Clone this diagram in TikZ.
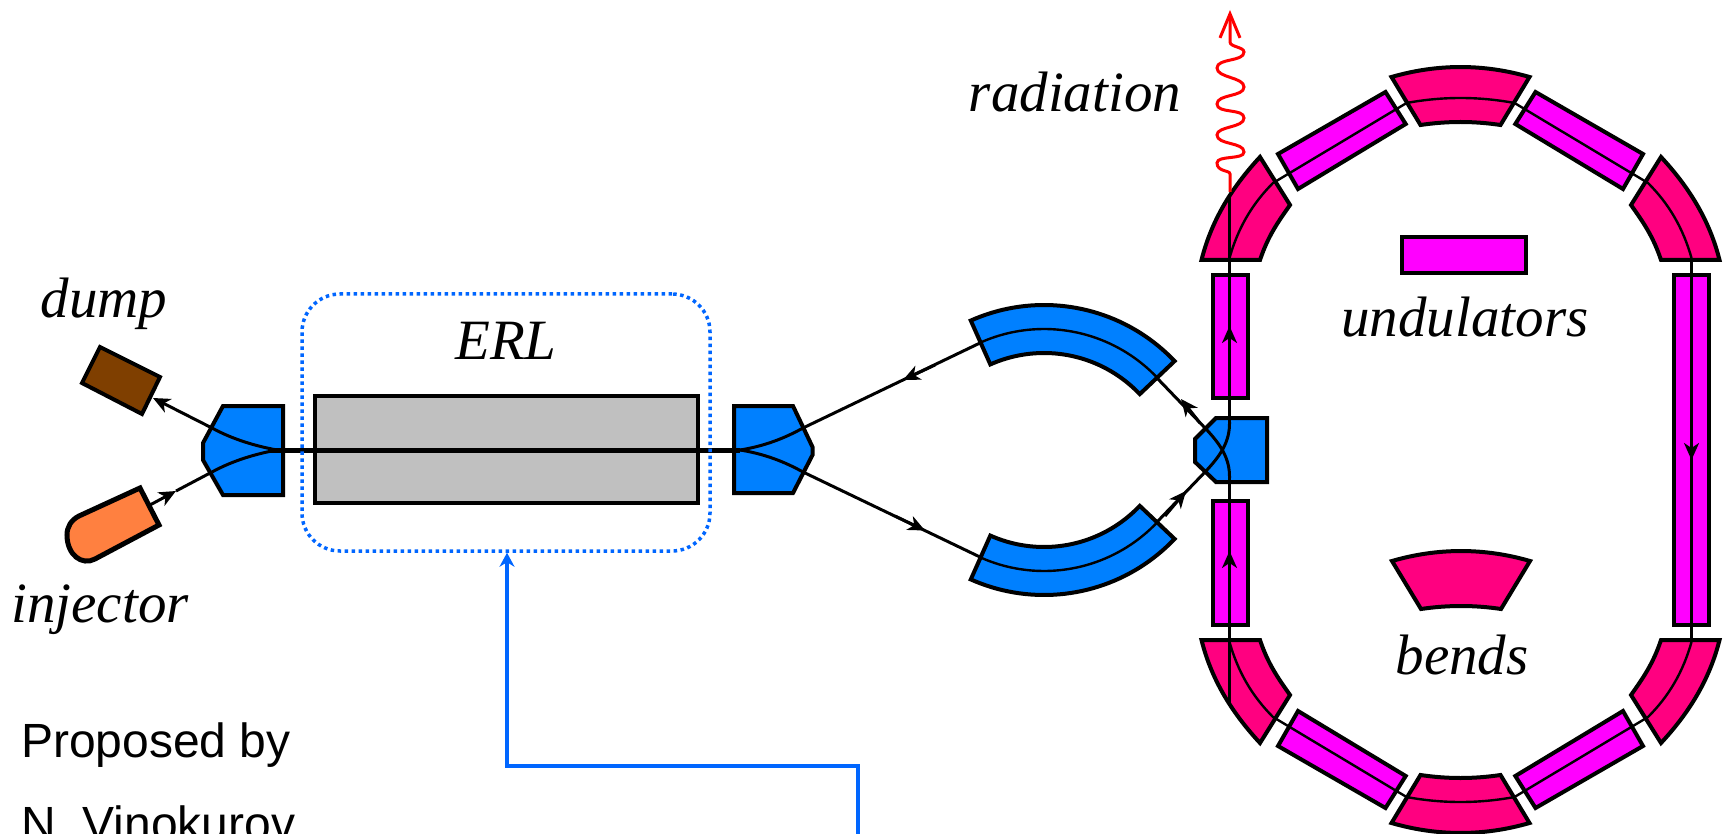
\documentclass[tikz,border=0pt]{standalone}
\usepackage{fontspec}
\setmainfont{Liberation Serif}
\newfontfamily\labsans{Liberation Sans}
\usetikzlibrary{arrows.meta}
\definecolor{magblue}{HTML}{0080FF}
\definecolor{undmag}{HTML}{FF00FF}
\definecolor{bendpink}{HTML}{FF0080}
\definecolor{cavgray}{HTML}{C0C0C0}
\definecolor{dumpbrown}{HTML}{7F3F00}
\definecolor{injorange}{HTML}{FF8040}
\definecolor{linkblue}{HTML}{0066FF}
\newcommand{\bendpath}{(-69,-21) .. controls (-23,-34.3) and (23,-34.3) .. (69,-21) -- (40,27) .. controls (13,23) and (-13,23) .. (-40,27) -- cycle}
\tikzset{
  part/.style={draw=black,line width=4pt,line join=miter},
  beamline/.style={draw=black,line width=3pt},
  ringline/.style={draw=black,line width=2.4pt},
  flowtip/.style={-{Stealth[length=17pt,width=15pt,inset=5pt]}},
  lab/.style={inner sep=0pt,anchor=base,font=\fontsize{57}{60}\selectfont\itshape},
  sanslab/.style={inner sep=0pt,anchor=base west,font=\fontsize{48}{50}\selectfont\labsans}
}
\begin{document}
\begin{tikzpicture}[x=1pt,y=-1pt]
\useasboundingbox (0,0) rectangle (1724,834);
\clip (0,0) rectangle (1724,834);
\fill[white] (0,0) rectangle (1724,834);

% injection side
\fill[part,fill=dumpbrown] (100,347) -- (160,377) -- (142,414) -- (82,383) -- cycle;
\fill[part,fill=injorange,line width=5pt] (140,488) -- (159,525) -- (95,559) .. controls (82,566) and (67,555) .. (67,535) .. controls (67,527) and (71,520) .. (79,516) -- cycle;
\fill[part,fill=magblue] (223,406) -- (283,406) -- (283,495) -- (223,495) -- (203,460) -- (203,443) -- cycle;
\fill[part,fill=cavgray] (315,396) rectangle (698,503);
\fill[part,fill=magblue] (734,406) -- (793,406) -- (812.5,447) -- (812.5,455) -- (793,493) -- (734,493) -- cycle;

% recirculation arcs
\foreach \sy in {1,-1}{
\begin{scope}[shift={(0,450)},yscale=\sy]
  \fill[part,fill=magblue] plot[domain=114:43.5,samples=40] ({1044+180*cos(\x)},{35-180*sin(\x)}) -- plot[domain=43.5:114,samples=40] ({1044+132*cos(\x)},{35-132*sin(\x)}) -- cycle;
\end{scope}}

% straight undulators
\fill[part,fill=undmag] (1212.5,275) rectangle (1247.5,398);
\fill[part,fill=undmag] (1212.5,501) rectangle (1247.5,625);
\fill[part,fill=undmag] (1674,275) rectangle (1709,625);
\fill[part,fill=magblue] (1216,418) -- (1267,418) -- (1267,482) -- (1216,482) -- (1195,462) -- (1195,439) -- cycle;

% ring pieces
\foreach \sx/\sy in {1/1,-1/1,1/-1,-1/-1}{
\begin{scope}[shift={(1460.5,450)},xscale=\sx,yscale=\sy]
  \fill[part,fill=bendpink] (-259,-190) .. controls (-248.5,-232) and (-226.5,-265) .. (-200.5,-293) -- (-170.5,-245) .. controls (-182.5,-228) and (-192.5,-214) .. (-200.5,-190) -- cycle;
  \fill[part,fill=undmag] (-182.5,-296) -- (-75,-358) -- (-54.8,-326) -- (-162.5,-261) -- cycle;
  \draw[ringline] (-231,-192) .. controls (-222.5,-222) and (-208.5,-246) .. (-187.5,-267) -- (-54,-347);
\end{scope}}
\foreach \sy in {1,-1}{
\begin{scope}[shift={(1460.5,450)},yscale=\sy]
  \begin{scope}[shift={(0,-352)}]
    \fill[part,fill=bendpink] \bendpath;
    \draw[ringline] (-54,5) .. controls (-18,-1.67) and (18,-1.67) .. (54,5);
  \end{scope}
  \draw[ringline] (-231,-253) -- (-231,-192);
\end{scope}}

% legend pieces
\fill[part,fill=undmag] (1402,237) rectangle (1526,273);
\begin{scope}[shift={(1461,582)}]
  \fill[part,fill=bendpink] \bendpath;
\end{scope}

% beam through the crossing and straights
\foreach \sy in {1,-1}{
\begin{scope}[shift={(0,450)},yscale=\sy]
  \draw[ringline] plot[domain=114:43.5,samples=40] ({1044+156*cos(\x)},{35-156*sin(\x)});
  \draw[beamline] (1157,-72) -- (1206,-21) .. controls (1220,-6) and (1230,8) .. (1229.5,28);
  \draw[beamline] (740,0) .. controls (765,-4) and (785,-12) .. (803,-22) -- (981,-107.5);
  \draw[beamline] (277,0) .. controls (255,-4) and (232,-11) .. (212,-22);
\end{scope}}
\draw[ringline] (1229.5,422) -- (1229.5,258);
\draw[ringline] (1229.5,478) -- (1229.5,642);
\draw[ringline] (1691.5,258) -- (1691.5,642);

\draw[beamline,flowtip] (212,428) -- (153,398);
\draw[beamline,flowtip] (150,505) -- (176,491);
\draw[beamline] (176,491) -- (212,472);
\draw[line width=5pt] (270,450) -- (740,450);

\draw[beamline,flowtip] (935,365) -- (903,380);
\draw[beamline,flowtip] (895,516) -- (925,530.5);
\draw[beamline,flowtip] (1200,423) -- (1181,399);
\draw[beamline,flowtip] (1165,516) -- (1186,491);
\draw[ringline,flowtip] (1229.5,345) -- (1229.5,326);
\draw[ringline,flowtip] (1229.5,570) -- (1229.5,551);
\draw[ringline,flowtip] (1691.5,440) -- (1691.5,460);

% radiation
\draw[draw=red,line width=3pt,-{Straight Barb[length=24pt,width=20pt]}]
  (1230,192) -- (1230,174) .. controls (1230,170) and (1217,172) .. (1217,163)
  .. controls (1217,155) and (1244,160) .. (1244,152)
  .. controls (1244,142) and (1217,145) .. (1217,135)
  .. controls (1217,126) and (1244,128) .. (1244,118)
  .. controls (1244,108) and (1217,114) .. (1217,104)
  .. controls (1217,94) and (1244,97) .. (1244,87)
  .. controls (1244,77) and (1217,78) .. (1217,68)
  .. controls (1217,58) and (1244,62) .. (1244,52)
  .. controls (1244,47) and (1230,47) .. (1230,42) -- (1230,10);

% ERL frame and link
\node[draw=linkblue,line width=3.5pt,dash pattern=on 3.5pt off 3.5pt,rounded corners=38pt,minimum width=408pt,minimum height=257pt,inner sep=0pt] (erlbox) at (506,422.5) {};
\coordinate (linkstart) at (858,834);
\coordinate (linkhigh) at (858,766);
\coordinate (linkturn) at (507,766);
\draw[draw=linkblue,line width=3.5pt,-{Stealth[length=14pt,width=15pt]}] (linkstart) -- (linkhigh) -- (linkturn) -- (erlbox.south -| linkturn);

% labels
\node[lab] (radlab) at (1075,112) {radiation};
\node[lab] (undlab) at (1465,336) {undulators};
\node[lab] (bendlab) at (1462,674) {bends};
\node[lab] (dumplab) at (104,318) {dump};
\node[lab] (injlab) at (100,622) {injector};
\node[lab] (erllab) at (506,359) {ERL};
\node[sanslab] (prop) at (21,757) {Proposed by};
\node[sanslab] (vino) at (21,840) {N. Vinokurov};
\end{tikzpicture}
\end{document}
